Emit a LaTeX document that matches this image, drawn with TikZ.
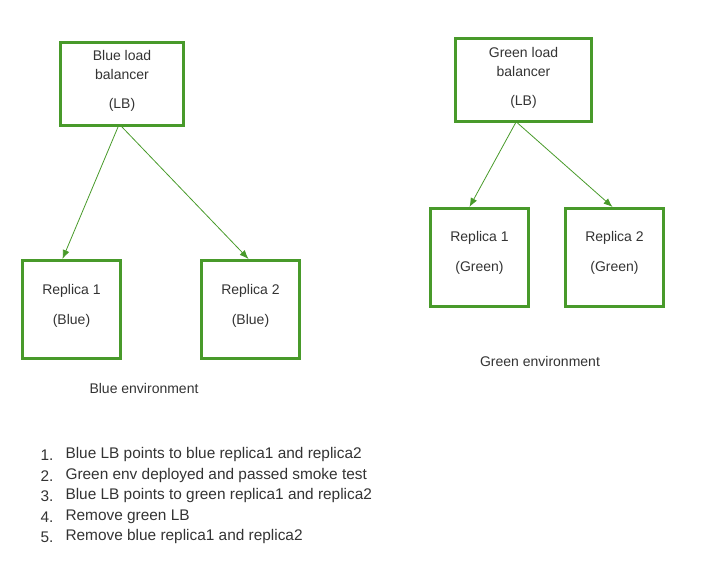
\documentclass[tikz,border=0pt]{standalone}
\usepackage{fontspec}
\setmainfont{Liberation Sans}
\usetikzlibrary{arrows.meta}
\definecolor{boxgreen}{RGB}{72,154,42}
\definecolor{txtgray}{RGB}{51,51,51}
\tikzset{
	box/.style={draw=boxgreen, line width=3pt, minimum width=98pt, minimum height=98pt, align=center, text=txtgray, inner sep=0pt, text depth=10pt},
	lbbox/.style={box, minimum height=83pt},
	arr/.style={draw=boxgreen, line width=0.8pt, -{Latex[length=9pt,width=7pt]}},
	lbl/.style={text=txtgray},
	steptext/.style={lbl, anchor=west, font=\fontsize{15.4}{19}\selectfont}
}
\begin{document}
\begin{tikzpicture}[x=1pt, y=-1pt, font=\fontsize{14}{19}\selectfont]
	\useasboundingbox (0,0) rectangle (706,577);
	% blue side
	\node[lbbox, minimum width=123pt] (bluelb) at (122,84) {Blue load\\balancer\\[10pt](LB)};
	\node[box] (brepa) at (71.5,309.5) {Replica 1\\[11pt](Blue)};
	\node[box] (brepb) at (250.5,309.5) {Replica 2\\[11pt](Blue)};
	\node[lbl] (benv) at (144,388) {Blue environment};
	\draw[arr] ([xshift=-4pt]bluelb.south) -- ([xshift=-9pt]brepa.north);
	\draw[arr] (bluelb.south) -- ([xshift=-2pt]brepb.north);
	% green side
	\node[lbbox, minimum width=136pt, text depth=7pt] (greenlb) at (523.5,80) {Green load\\balancer\\[10pt](LB)};
	\node[box, text depth=12pt] (grepa) at (479.5,257.5) {Replica 1\\[11pt](Green)};
	\node[box, text depth=12pt] (grepb) at (614.5,257.5) {Replica 2\\[11pt](Green)};
	\node[lbl] (genv) at (540,361) {Green environment};
	\draw[arr] ([xshift=-8pt]greenlb.south) -- ([xshift=-10pt]grepa.north);
	\draw[arr] ([xshift=-6pt]greenlb.south) -- ([xshift=-2pt]grepb.north);
	% steps
	\foreach \n/\y/\txt in {1/455/Blue LB points to blue replica1 and replica2,
		2/476/Green env deployed and passed smoke test,
		3/496/Blue LB points to green replica1 and replica2,
		4/517/Remove green LB,
		5/537/Remove blue replica1 and replica2}{
		\node[steptext] (num\n) at (37,\y) {\n.};
		\node[steptext] (step\n) at (62,\y) {\txt};
	}
\end{tikzpicture}
\end{document}
